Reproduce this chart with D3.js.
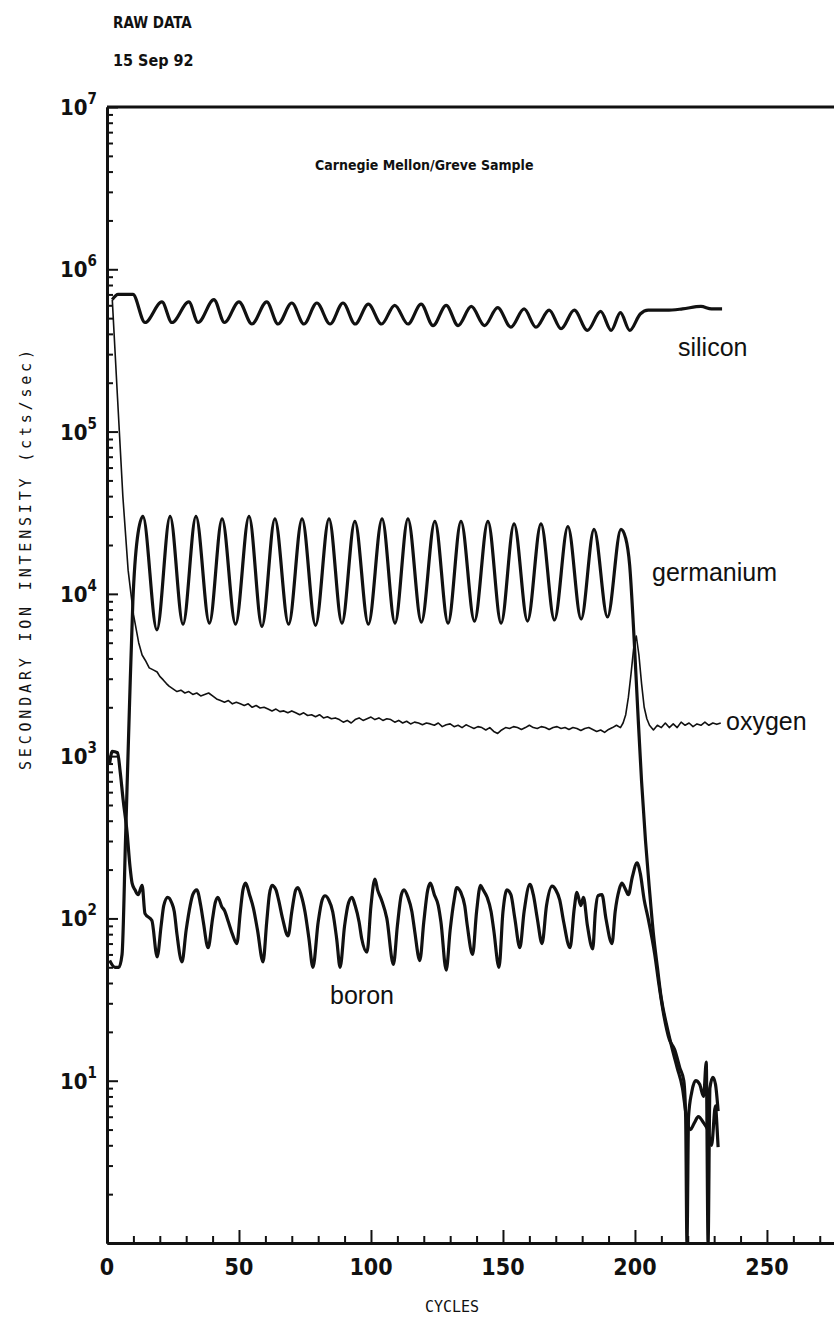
<!DOCTYPE html>
<html>
<head>
<meta charset="utf-8">
<script src="https://d3js.org/d3.v7.min.js"></script>
<style>
  body { margin: 0; background: #fff; }
  svg { display: block; }
  .bold { font-family: 'Liberation Sans Narrow', 'DejaVu Sans Condensed', sans-serif; font-weight: bold; fill: #111; }
  .mono { font-family: 'DejaVu Sans Mono', monospace; fill: #111; }
  .name { font-family: 'Liberation Sans', Arial, sans-serif; font-size: 25px; fill: #111; }
</style>
</head>
<body>
<svg id="chart" width="834" height="1323"></svg>
<script>
// ---- data (cycle, counts/sec) ----
const xMajorTicks = [0, 50, 100, 150, 200, 250];
const xMinorTicks = [10, 20, 30, 40, 60, 70, 80, 90, 110, 120, 130, 140, 160, 170, 180, 190, 210, 220, 230, 240, 260, 270];
const yDecades = [1e1, 1e2, 1e3, 1e4, 1e5, 1e6, 1e7];

const silicon = [
  [2, 6.5e5], [4.2, 7.0e5], [9.8, 7.0e5], [14.4, 4.7e5], [20.8, 6.3e5], [24.6, 4.7e5], [31, 6.3e5], [34.5, 4.7e5],
  [40.5, 6.5e5], [44.5, 4.7e5], [50, 6.3e5], [54.9, 4.6e5], [60.5, 6.3e5], [64.8, 4.6e5], [70, 6.2e5], [74.6, 4.6e5],
  [79.5, 6.2e5], [84.5, 4.6e5], [89.4, 6.2e5], [94, 4.6e5], [99, 6.1e5], [104, 4.6e5], [109, 6.0e5], [114, 4.6e5],
  [119, 6.1e5], [123.5, 4.5e5], [128.5, 6.0e5], [133, 4.5e5], [138, 5.9e5], [143, 4.5e5], [148, 5.8e5], [153, 4.4e5],
  [158, 5.7e5], [162.5, 4.4e5], [167.5, 5.6e5], [172, 4.3e5], [177, 5.6e5], [182, 4.2e5], [187, 5.5e5], [191, 4.2e5],
  [194.5, 5.4e5], [198, 4.2e5], [202, 5.3e5], [205, 5.6e5], [212, 5.6e5], [218, 5.7e5], [225, 5.9e5], [229, 5.7e5], [233, 5.7e5]
];

const germanium = [
  [1, 55], [3, 50], [4.5, 50], [5.7, 60], [7, 300], [8.5, 2000], [9.8, 9000], [11.5, 2.2e4],
  [13.6, 3.0e4], [18.9, 6.0e3], [23.9, 3.0e4], [28.8, 6.5e3], [33.7, 3.0e4], [38.8, 6.6e3], [43.6, 2.9e4], [48.7, 6.5e3],
  [53.8, 3.0e4], [58.7, 6.3e3], [63.6, 2.9e4], [68.8, 6.5e3], [73.9, 2.9e4], [79, 6.4e3], [84.1, 2.9e4], [89, 6.6e3],
  [93.9, 2.8e4], [99, 6.5e3], [104.2, 2.9e4], [109.1, 6.6e3], [114, 2.9e4], [119.1, 6.7e3], [124.2, 2.8e4], [129.2, 6.6e3],
  [134.1, 2.8e4], [139.2, 6.8e3], [144.3, 2.8e4], [149.3, 6.6e3], [154.2, 2.7e4], [159.3, 6.8e3], [164.4, 2.7e4], [169.5, 6.9e3],
  [174.6, 2.6e4], [179.6, 7.0e3], [184.5, 2.5e4], [189.6, 7.2e3], [194.7, 2.5e4], [196.5, 2.2e4], [198, 1.5e4], [199.5, 6e3],
  [201, 2000], [202.5, 700], [204, 300], [205.5, 150], [207, 80], [208.5, 50], [210, 32], [212, 22], [214, 16], [216, 12],
  [218, 9], [219.5, 6], [221, 5], [222.5, 5.5], [224, 6], [226, 5.5], [227.5, 5], [229, 4], [230.5, 7], [231, 5.5], [231.5, 3.9]
];

const oxygen = [
  [2, 6.5e5], [4, 1.6e5], [6, 4e4], [8, 1.4e4], [10, 7.5e3], [12, 5e3], [13.3, 4.2e3], [14.5, 3.9e3], [16, 3.5e3],
  [17.5, 3.4e3], [19, 3.3e3], [20, 3.1e3], [21.3, 2.95e3], [22.5, 2.8e3], [23.5, 2.7e3], [25, 2.6e3], [26.5, 2.5e3],
  [28, 2.55e3], [29.5, 2.45e3], [31, 2.5e3], [32.5, 2.4e3], [34, 2.45e3], [35.5, 2.35e3], [37, 2.4e3], [38.5, 2.45e3],
  [40, 2.35e3], [41.5, 2.25e3], [43, 2.2e3], [44.5, 2.15e3], [46, 2.2e3], [47.5, 2.1e3], [49, 2.15e3], [50.5, 2.1e3],
  [52, 2.05e3], [53.5, 2.1e3], [55, 2.0e3], [56.5, 2.05e3], [58, 1.98e3], [59.5, 2.0e3], [61, 1.95e3], [62.5, 1.9e3],
  [64, 1.95e3], [65.5, 1.88e3], [67, 1.9e3], [68.5, 1.85e3], [70, 1.9e3], [71.5, 1.85e3], [73, 1.8e3], [74.5, 1.85e3],
  [76, 1.78e3], [77.5, 1.8e3], [79, 1.75e3], [80.5, 1.8e3], [82, 1.72e3], [83.5, 1.75e3], [85, 1.7e3], [86.5, 1.72e3],
  [88, 1.68e3], [89.5, 1.62e3], [91, 1.66e3], [92.5, 1.6e3], [94, 1.68e3], [95.5, 1.72e3], [97, 1.66e3], [98.5, 1.7e3],
  [100, 1.74e3], [101.5, 1.68e3], [103, 1.72e3], [104.5, 1.66e3], [106, 1.7e3], [107.5, 1.68e3], [109, 1.62e3],
  [110.5, 1.66e3], [112, 1.6e3], [113.5, 1.64e3], [115, 1.58e3], [116.5, 1.62e3], [118, 1.6e3], [119.5, 1.56e3],
  [121, 1.6e3], [122.5, 1.58e3], [124, 1.55e3], [125.5, 1.6e3], [127, 1.52e3], [128.5, 1.56e3], [130, 1.58e3],
  [131.5, 1.52e3], [133, 1.55e3], [134.5, 1.5e3], [136, 1.56e3], [137.5, 1.52e3], [139, 1.48e3], [140.5, 1.52e3],
  [142, 1.5e3], [143.5, 1.45e3], [145, 1.5e3], [146.5, 1.42e3], [148, 1.38e3], [149.5, 1.45e3], [151, 1.5e3],
  [152.5, 1.48e3], [154, 1.52e3], [155.5, 1.5e3], [157, 1.46e3], [158.5, 1.5e3], [160, 1.55e3], [161.5, 1.5e3],
  [163, 1.48e3], [164.5, 1.52e3], [166, 1.5e3], [167.5, 1.46e3], [169, 1.5e3], [170.5, 1.52e3], [172, 1.48e3],
  [173.5, 1.5e3], [175, 1.46e3], [176.5, 1.5e3], [178, 1.48e3], [179.5, 1.44e3], [181, 1.48e3], [182.5, 1.5e3],
  [184, 1.46e3], [185.5, 1.42e3], [187, 1.45e3], [188.5, 1.4e3], [190, 1.46e3], [191.5, 1.5e3], [193, 1.55e3],
  [194.5, 1.5e3], [195.5, 1.6e3], [196.5, 1.8e3], [197.5, 2.3e3], [198.5, 3.2e3], [199.5, 4.6e3], [200.5, 5.5e3],
  [201.5, 4.2e3], [202.5, 2.8e3], [203.5, 2.0e3], [204.5, 1.7e3], [205.5, 1.55e3], [207, 1.45e3], [208.5, 1.55e3],
  [210, 1.5e3], [211.5, 1.6e3], [213, 1.5e3], [214.5, 1.58e3], [216, 1.5e3], [217.5, 1.62e3], [219, 1.55e3],
  [220.5, 1.6e3], [222, 1.52e3], [223.5, 1.58e3], [225, 1.55e3], [226.5, 1.62e3], [228, 1.55e3], [229.5, 1.6e3],
  [231, 1.57e3], [232.5, 1.6e3]
];

const boron = [
  [1, 900], [2, 1070], [4, 1050], [5, 800], [6.1, 540], [7.6, 340], [8.7, 210], [9.5, 165], [10.6, 150], [11.8, 140],
  [13.3, 160], [14.4, 107], [17, 97], [19, 58], [20.5, 90], [21.5, 120], [23, 135], [24.5, 125], [25.5, 110], [26.5, 80],
  [28.4, 54], [30, 85], [31.5, 120], [32.5, 140], [34, 150], [35.5, 120], [36.5, 95], [38.3, 66], [40, 100], [41, 125],
  [42, 135], [43.5, 118], [44.5, 112], [46, 95], [47.5, 80], [49.2, 70], [50.5, 110], [51.5, 150], [52.5, 165], [54, 140],
  [55.5, 115], [57, 85], [59.1, 54], [60.5, 95], [61.5, 140], [62.5, 160], [64, 150], [65, 130], [66.5, 100], [68.6, 78],
  [70, 110], [71.5, 150], [72.3, 155], [73.5, 140], [75, 110], [76.5, 75], [78, 50], [80, 95], [81.5, 130], [82.6, 138],
  [84, 130], [85.5, 110], [87, 75], [88.3, 50], [90, 90], [91.5, 125], [92.8, 135], [94, 120], [95.5, 95], [96.5, 75],
  [98.5, 62], [100, 120], [101.5, 175], [102.5, 150], [104, 130], [106, 100], [108.5, 52], [110, 90], [111.5, 140],
  [112.5, 150], [114, 135], [115.5, 110], [116.5, 85], [118.5, 55], [120, 95], [121.5, 150], [122.5, 165], [124, 140],
  [125.5, 120], [126.5, 95], [128.5, 48], [130, 85], [131.5, 130], [132.5, 155], [134, 145], [135.5, 120], [136.5, 90],
  [138.5, 60], [140, 110], [141.5, 160], [142.5, 150], [144, 135], [145.5, 110], [146.5, 85], [148.5, 50], [150, 110],
  [151.5, 150], [153, 140], [154.5, 100], [156.4, 66], [158, 110], [160.2, 162], [161.5, 140], [163, 100], [164.8, 70],
  [166.5, 120], [168.6, 158], [170, 150], [171.5, 130], [173, 95], [175.4, 66], [177, 115], [178, 145], [179.5, 120],
  [180.5, 135], [182, 90], [184, 65], [185, 110], [186, 138], [187.5, 140], [189, 100], [191.3, 70], [192.5, 110],
  [194, 150], [195, 165], [196.5, 150], [197.5, 140], [199, 180], [200.8, 220], [202, 190], [203.5, 130], [205, 100],
  [207.5, 60], [209, 40], [211, 25], [213, 18], [215, 15.6], [217, 12], [218.5, 10], [219.2, 6], [219.7, 1], [220.3, 6],
  [221.5, 8.5], [223, 10], [224.5, 9.5], [226, 8], [227, 13], [227.7, 1], [228.4, 9], [229.5, 10.5], [230.5, 9.5], [231.5, 6.5]
];

// ---- layout ----
const svg = d3.select("#chart");
const x = d3.scaleLinear().domain([0, 275.4]).range([107, 834]);
const y = d3.scaleLog().domain([1, 1e7]).range([1243, 107]);
const ink = "#111";

// header texts
svg.append("text").attr("class", "bold").attr("x", 113).attr("y", 28).style("font-size", "15px").text("RAW DATA");
svg.append("text").attr("class", "bold").attr("x", 113).attr("y", 66).style("font-size", "16px").text("15 Sep 92");
svg.append("text").attr("class", "bold").attr("x", 315).attr("y", 170).style("font-size", "14px").text("Carnegie Mellon/Greve Sample");

// axes
const yMinor = [];
for (let e = 0; e < 7; e++) for (let m = 2; m <= 9; m++) yMinor.push(m * Math.pow(10, e));

const gy = svg.append("g").attr("transform", `translate(${x(0)},0)`);
gy.call(d3.axisLeft(y).tickValues(yMinor).tickSize(-6).tickSizeOuter(0).tickFormat(""));
gy.append("g").call(d3.axisLeft(y).tickValues(yDecades).tickSize(-11).tickSizeOuter(0).tickFormat(""));

const gx = svg.append("g").attr("transform", `translate(0,${y(1)})`);
gx.call(d3.axisBottom(x).tickValues(xMinorTicks).tickSize(-7).tickSizeOuter(0).tickFormat(""));
gx.append("g").call(d3.axisBottom(x).tickValues(xMajorTicks).tickSize(-13).tickSizeOuter(0).tickFormat(""));

svg.selectAll(".domain").attr("stroke", ink).attr("stroke-width", 3);
svg.selectAll(".tick line").attr("stroke", ink).attr("stroke-width", 2);

// top frame line
svg.append("line")
  .attr("x1", x(0)).attr("x2", x(275.4))
  .attr("y1", y(1e7)).attr("y2", y(1e7))
  .attr("stroke", ink).attr("stroke-width", 3);

// y tick labels 10^n
yDecades.forEach(function (d) {
  const t = svg.append("text").attr("class", "bold")
    .attr("x", 97).attr("y", y(d) + 8)
    .attr("text-anchor", "end").style("font-size", "22px");
  t.append("tspan").text("10");
  t.append("tspan").attr("dy", -11).style("font-size", "15px").text(Math.round(Math.log10(d)));
});

// x tick labels
svg.append("g").selectAll("text")
  .data(xMajorTicks)
  .enter()
  .append("text")
  .attr("class", "bold")
  .attr("x", function (d) { return x(d); })
  .attr("y", y(1) + 32)
  .attr("text-anchor", "middle")
  .style("font-size", "23px")
  .text(function (d) { return d; });

// axis titles
svg.append("text").attr("class", "mono")
  .attr("x", 452).attr("y", 1312)
  .attr("text-anchor", "middle")
  .style("font-size", "15px")
  .text("CYCLES");

svg.append("text").attr("class", "mono")
  .attr("transform", "translate(31,560) rotate(-90)")
  .attr("text-anchor", "middle")
  .attr("textLength", 420).attr("lengthAdjust", "spacing")
  .style("font-size", "15px")
  .text("SECONDARY ION INTENSITY (cts/sec)");

// series lines
const line = d3.line()
  .x(function (d) { return x(d[0]); })
  .y(function (d) { return y(d[1]); });

function drawSeries(data, width, curve) {
  svg.append("path")
    .datum(data)
    .attr("fill", "none")
    .attr("stroke", ink)
    .attr("stroke-width", width)
    .attr("stroke-linejoin", "round")
    .attr("d", line.curve(curve));
}

drawSeries(oxygen, 1.6, d3.curveLinear);
drawSeries(silicon, 3.2, d3.curveMonotoneX);
drawSeries(germanium, 3.2, d3.curveMonotoneX);
drawSeries(boron, 3.2, d3.curveMonotoneX);

// series names
svg.append("text").attr("class", "name").attr("x", 678).attr("y", 356).text("silicon");
svg.append("text").attr("class", "name").attr("x", 652).attr("y", 581).text("germanium");
svg.append("text").attr("class", "name").attr("x", 726).attr("y", 730).text("oxygen");
svg.append("text").attr("class", "name").attr("x", 330).attr("y", 1004).text("boron");
</script>
</body>
</html>
